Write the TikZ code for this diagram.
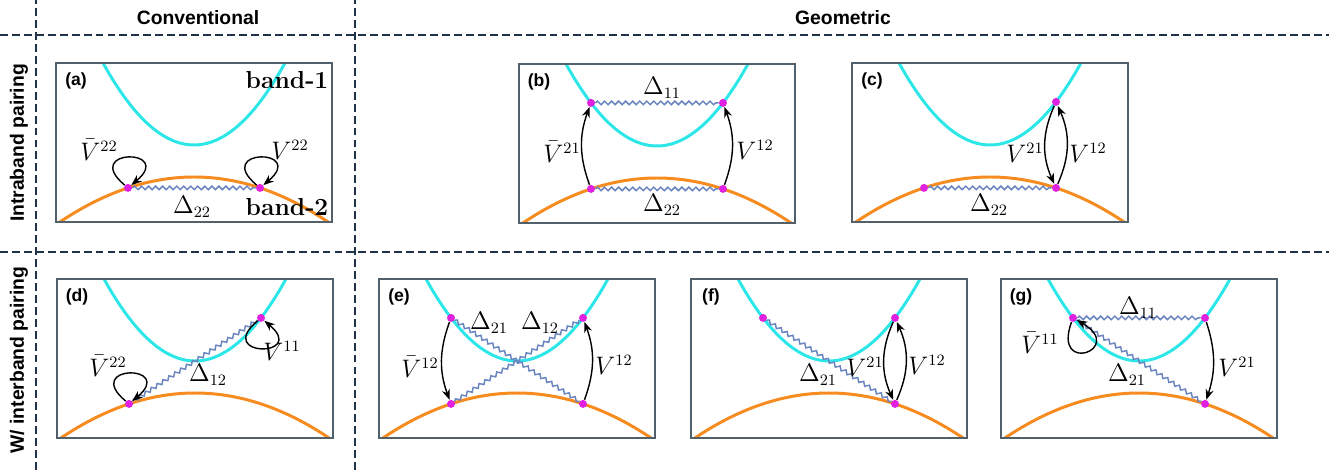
\documentclass[tikz,border=0pt]{standalone}
\usepackage{fontspec}
\newfontfamily\headfont{Liberation Sans}
\usetikzlibrary{arrows.meta,decorations.pathmorphing}
\definecolor{gridline}{HTML}{1F324A}
\definecolor{frameline}{HTML}{52606B}
\definecolor{bandA}{HTML}{2CE6E8}
\definecolor{bandB}{HTML}{F68B1F}
\definecolor{vertexcol}{HTML}{E022E0}
\definecolor{wavecol}{HTML}{6A85C0}

\begin{document}
\begin{tikzpicture}[x=0.02cm,y=0.02cm,
  grid/.style={draw=gridline,line width=1.1pt,dash pattern=on 4.5pt off 2.3pt},
  head/.style={font=\headfont\fontsize{11}{13}\selectfont\bfseries},
  tag/.style={font=\headfont\fontsize{10}{12}\selectfont\bfseries,inner sep=1pt},
  bandlab/.style={font=\fontsize{14}{16}\selectfont\bfseries,inner sep=1pt},
  lab/.style={font=\fontsize{13.5}{15}\selectfont,inner sep=1pt},
  panelbox/.style={draw=frameline,line width=0.7pt},
  band1/.style={draw=bandA,line width=1.7pt},
  band2/.style={draw=bandB,line width=1.7pt},
  vertex/.style={circle,fill=vertexcol,inner sep=0pt,minimum size=0.16cm},
  wave/.style={draw=wavecol,line width=0.85pt,decorate,decoration={snake,amplitude=1pt,segment length=4pt}},
  arr/.style={-{Stealth[length=6pt,width=4.6pt]},line width=0.8pt},
  selfloop/.style={arr,min distance=1.15cm}
]
\useasboundingbox (0,0) rectangle (1329,470);

% table lines and headings
\draw[grid] (0,435) -- (1329,435);
\draw[grid] (0,218) -- (1329,218);
\draw[grid] (36,0) -- (36,470);
\draw[grid] (355,0) -- (355,470);
\node[head] (conv) at (198,452) {Conventional};
\node[head] (geom) at (843,452) {Geometric};
\node[head,rotate=90] (intra) at (19,327) {Intraband pairing};
\node[head,rotate=90] (inter) at (19,110) {W/ interband pairing};

% panels: bands, frame, tag and the points in use
\foreach \pn/\ox/\oy/\pts in {a/56/248/{L2,R2}, b/519/247/{L1,R1,L2,R2},
    c/852/248/{L2,R1,R2}, d/57/32/{L2,R1}, e/379/32/{L1,R1,L2,R2},
    f/691/32/{L1,R1,R2}, g/1001/32/{L1,R1,R2}}{
  \begin{scope}[shift={(\ox,\oy)}]
    \begin{scope}
      \clip (0,0) rectangle (276,159);
      \draw[band1] plot[domain=45:231,samples=61] (\x,{77+0.0099*(\x-138)*(\x-138)});
      \draw[band2] plot[domain=2:274,samples=61] (\x,{45-0.0025*(\x-138)*(\x-138)});
    \end{scope}
    \draw[panelbox] (0,0) rectangle (276,159);
    \node[tag] (tag\pn) at (20,141) {(\pn)};
    \coordinate (\pn-L1) at (72,120.1);
    \coordinate (\pn-R1) at (204,120.1);
    \coordinate (\pn-L2) at (72,34.1);
    \coordinate (\pn-R2) at (204,34.1);
    \foreach \pt in \pts
      \node[vertex] (\pn\pt) at (\pn-\pt) {};
  \end{scope}
}

% (a)
\node[bandlab] (aband1) at (287,390) {band-1};
\node[bandlab] (aband2) at (287,263) {band-2};
\draw[wave] (aL2) -- (aR2);
\draw[selfloop] (aL2) to[out=140,in=40] (aL2);
\draw[selfloop] (aR2) to[out=140,in=40] (aR2);
\node[lab] (aV) at (99,320) {$\bar V^{22}$};
\node[lab] (aW) at (290,320) {$V^{22}$};
\node[lab] (aD) at (192,263) {$\Delta_{22}$};

% (b)
\draw[wave] (bL1) -- (bR1);
\draw[wave] (bL2) -- (bR2);
\draw[arr] (bL2) to[bend left=20] (bL1);
\draw[arr] (bR2) to[bend right=20] (bR1);
\node[lab] (bD1) at (662,382) {$\Delta_{11}$};
\node[lab] (bD2) at (662,265) {$\Delta_{22}$};
\node[lab] (bV) at (562,318) {$\bar V^{21}$};
\node[lab] (bW) at (755,320) {$V^{12}$};

% (c)
\draw[wave] (cL2) -- (cR2);
\draw[arr] (cR1) to[bend right=24] (cR2);
\draw[arr] (cR2) to[bend right=24] (cR1);
\node[lab] (cD) at (989,265) {$\Delta_{22}$};
\node[lab] (cV) at (1025,317) {$V^{21}$};
\node[lab] (cW) at (1088,317) {$V^{12}$};

% (d)
\draw[wave] (dL2) -- (dR1);
\draw[selfloop] (dL2) to[out=140,in=40] (dL2);
\draw[selfloop] (dR1) to[out=220,in=320] (dR1);
\node[lab] (dV) at (108,104) {$\bar V^{22}$};
\node[lab] (dW) at (282,119) {$V^{11}$};
\node[lab] (dD) at (208,95) {$\Delta_{12}$};

% (e)
\draw[wave] (eL1) -- (eR2);
\draw[wave] (eL2) -- (eR1);
\draw[arr] (eL1) to[bend right=20] (eL2);
\draw[arr] (eR2) to[bend right=20] (eR1);
\node[lab] (eD1) at (489,147) {$\Delta_{21}$};
\node[lab] (eD2) at (540,147) {$\Delta_{12}$};
\node[lab] (eV) at (420,103) {$\bar V^{12}$};
\node[lab] (eW) at (614,105) {$V^{12}$};

% (f)
\draw[wave] (fL1) -- (fR2);
\draw[arr] (fR1) to[bend right=24] (fR2);
\draw[arr] (fR2) to[bend right=24] (fR1);
\node[lab] (fD) at (818,95) {$\Delta_{21}$};
\node[lab] (fV) at (865,103) {$V^{21}$};
\node[lab] (fW) at (927,105) {$V^{12}$};

% (g)
\draw[wave] (gL1) -- (gR1);
\draw[wave] (gL1) -- (gR2);
\draw[selfloop] (gL1) to[out=250,in=330] (gL1);
\draw[arr] (gR1) to[bend left=18] (gR2);
\node[lab] (gD1) at (1138,162) {$\Delta_{11}$};
\node[lab] (gD2) at (1127,95) {$\Delta_{21}$};
\node[lab] (gV) at (1040,127) {$\bar V^{11}$};
\node[lab] (gW) at (1237,103) {$V^{21}$};
\end{tikzpicture}
\end{document}
